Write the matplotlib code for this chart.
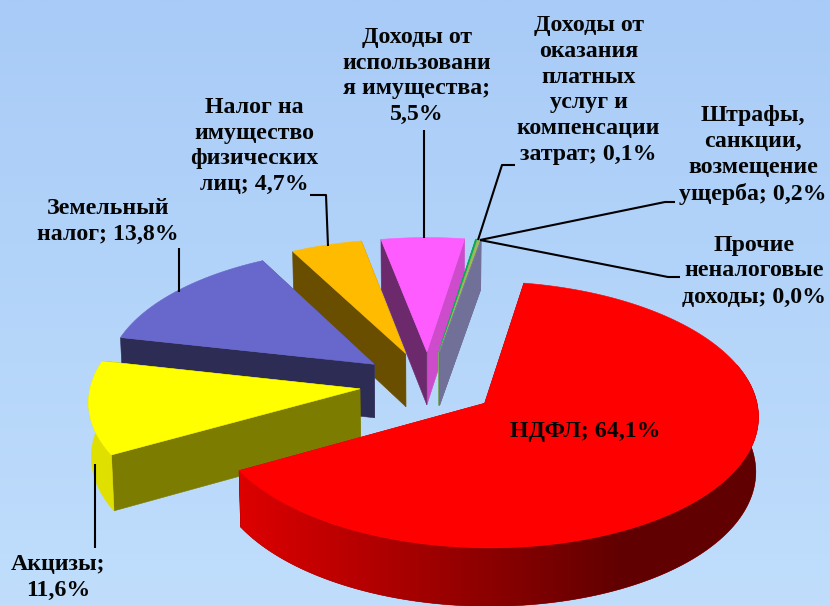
import numpy as np
import matplotlib
matplotlib.use("Agg")
import matplotlib.pyplot as plt
from matplotlib.colors import LinearSegmentedColormap, to_rgb
from matplotlib.patches import Polygon

# ---- data ----
categories = ["НДФЛ", "Акцизы", "Земельный\nналог", "Налог на\nимущество\nфизических\nлиц",
              "Доходы от\nиспользовани\nя имущества",
              "Доходы от\nоказания\nплатных\nуслуг и\nкомпенсации\nзатрат",
              "Штрафы,\nсанкции,\nвозмещение\nущерба", "Прочие\nненалоговые\nдоходы"]
values = [64.1, 11.6, 13.8, 4.7, 5.5, 0.1, 0.2, 0.0]
separators = ["; ", ";\n", "; ", "; ", ";\n", "; ", "; ", "; "]

# ---- style ----
top_colors = ["#FF0000", "#FFFF00", "#6868CC", "#FFBB00", "#FF5CFF", "#00B050", "#9BBB59", "#8080A8"]
start_wall = ["#800000", "#7C7C00", "#2C2C55", "#6A4E00", "#6C2A6C", "#00A060", "#707098", "#707098"]
end_wall = ["#C00000", "#7C7C00", "#50509A", "#A08000", "#CC4CCC", "#9BBB59", "#707098", "#707098"]
rim_color = ["#FF0000", "#E0E000", "#50509A", "#A08000", "#CC4CCC", "#70A060", "#707098", "#707098"]
START_ANGLE = 80.0
EXPLODE = 0.255
CX, CY, RX, RY, K = 428.0, 384.0, 269.0, 129.0, 0.084
DEPTH, BOTTOM_SCALE = 54.0, 0.992
BG_TOP, BG_BOTTOM = "#A8CBF7", "#C0DEFC"
FONT = {"family": "Liberation Serif", "weight": "bold", "size": 17.2, "color": "#050505"}

label_layout = [(585, 431), (58, 577), (108, 221), (254, 146), (417, 76), (588.5, 90), (753, 155), (754, 271)]
leaders = [None,
           [(95, 548), (95, 464)],
           [(179, 248), (179, 292)],
           [(310, 195), (326, 195), (328, 246)],
           [(424, 130), (424, 238)],
           [(515, 165), (502, 165), (478, 240)],
           [(675, 202), (665, 202), (480, 240)],
           [(680, 277), (668, 277), (480, 240)]]


def project(u, v, bottom=False):
    u, v = np.asarray(u, float), np.asarray(v, float)
    s = 1.0 / (1.0 + K * v)
    x = RX * u * s
    y = -RY * v * s
    if bottom:
        return CX + x * BOTTOM_SCALE, CY + y * BOTTOM_SCALE + DEPTH * s
    return CX + x, CY + y


fig = plt.figure(figsize=(8.30, 6.06), dpi=100)
ax = fig.add_axes([0, 0, 1, 1])
ax.axis("off")

cmap = LinearSegmentedColormap.from_list("bg", [BG_TOP, BG_BOTTOM])
ax.imshow(np.linspace(0, 1, 256).reshape(-1, 1), extent=(0, 830, 606, 0), aspect="auto", cmap=cmap, zorder=0)

spans = np.array(values) * 3.6
starts = START_ANGLE - np.concatenate([[0], np.cumsum(spans)[:-1]])
ends = starts - spans
mids = (starts + ends) / 2
order = np.argsort(-np.sin(np.radians(mids)))

z = 2
def add_poly(px, py, color):
    global z
    p = Polygon(np.column_stack([px, py]), closed=True, fc=color, ec=color, lw=0.4, zorder=z)
    ax.add_patch(p)
    z += 0.001
    return p


for i in order:
    au = EXPLODE * np.cos(np.radians(mids[i]))
    av = EXPLODE * np.sin(np.radians(mids[i]))
    th = np.radians(np.linspace(starts[i], ends[i], max(3, int(spans[i] * 2))))
    u, v = au + np.cos(th), av + np.sin(th)

    # radial walls, back one first
    walls = [(th[0], start_wall[i]), (th[-1], end_wall[i])]
    walls.sort(key=lambda w: -np.sin(w[0]))
    for ang, col in walls:
        eu, ev = au + np.cos(ang), av + np.sin(ang)
        tx, ty = project([au, eu], [av, ev])
        bx, by = project([au, eu], [av, ev], bottom=True)
        add_poly([tx[0], tx[1], bx[1], bx[0]], [ty[0], ty[1], by[1], by[0]], col)

    # outer rim: only slices that reach the front half show one
    tx, ty = project(u, v)
    bx, by = project(u, v, bottom=True)
    front = np.sin(th) <= 0.3
    if (np.sin(th) < 0).any():
        rx = np.r_[tx[front], bx[front][::-1]]
        ry = np.r_[ty[front], by[front][::-1]]
        if i == 0:
            # shaded rim: horizontal gradient clipped to the rim outline
            shade = np.array(to_rgb(rim_color[i]))
            grad = LinearSegmentedColormap.from_list("rim", [shade * 0.87, shade * 0.38])
            clip = add_poly(rx, ry, shade * 0.6)
            gx = np.linspace(0, 1, 256).reshape(1, -1)
            im = ax.imshow(gx, extent=(238, 620, 620, 380), aspect="auto", cmap=grad, zorder=z)
            im.set_clip_path(clip)
            z += 0.001
            im2 = ax.imshow(np.ones((1, 2)), extent=(620, 780, 620, 380), aspect="auto", cmap=grad,
                            vmin=0, vmax=1, zorder=z)
            im2.set_clip_path(clip)
            z += 0.001
        else:
            add_poly(rx, ry, rim_color[i])

    # top face
    ax_, ay_ = project([au], [av])
    add_poly(np.r_[ax_, tx], np.r_[ay_, ty], top_colors[i])

for i, cat in enumerate(categories):
    txt = f"{cat}{separators[i]}{values[i]:.1f}%".replace(".", ",")
    ax.text(*label_layout[i], txt, ha="center", va="center", linespacing=1.31, zorder=10, **FONT)
    if leaders[i]:
        pts = np.array(leaders[i])
        ax.plot(pts[:, 0], pts[:, 1], color="black", lw=1.5, zorder=9, solid_capstyle="butt")

ax.set_xlim(0, 830)
ax.set_ylim(606, 0)
fig.savefig("out.png", dpi=100)
